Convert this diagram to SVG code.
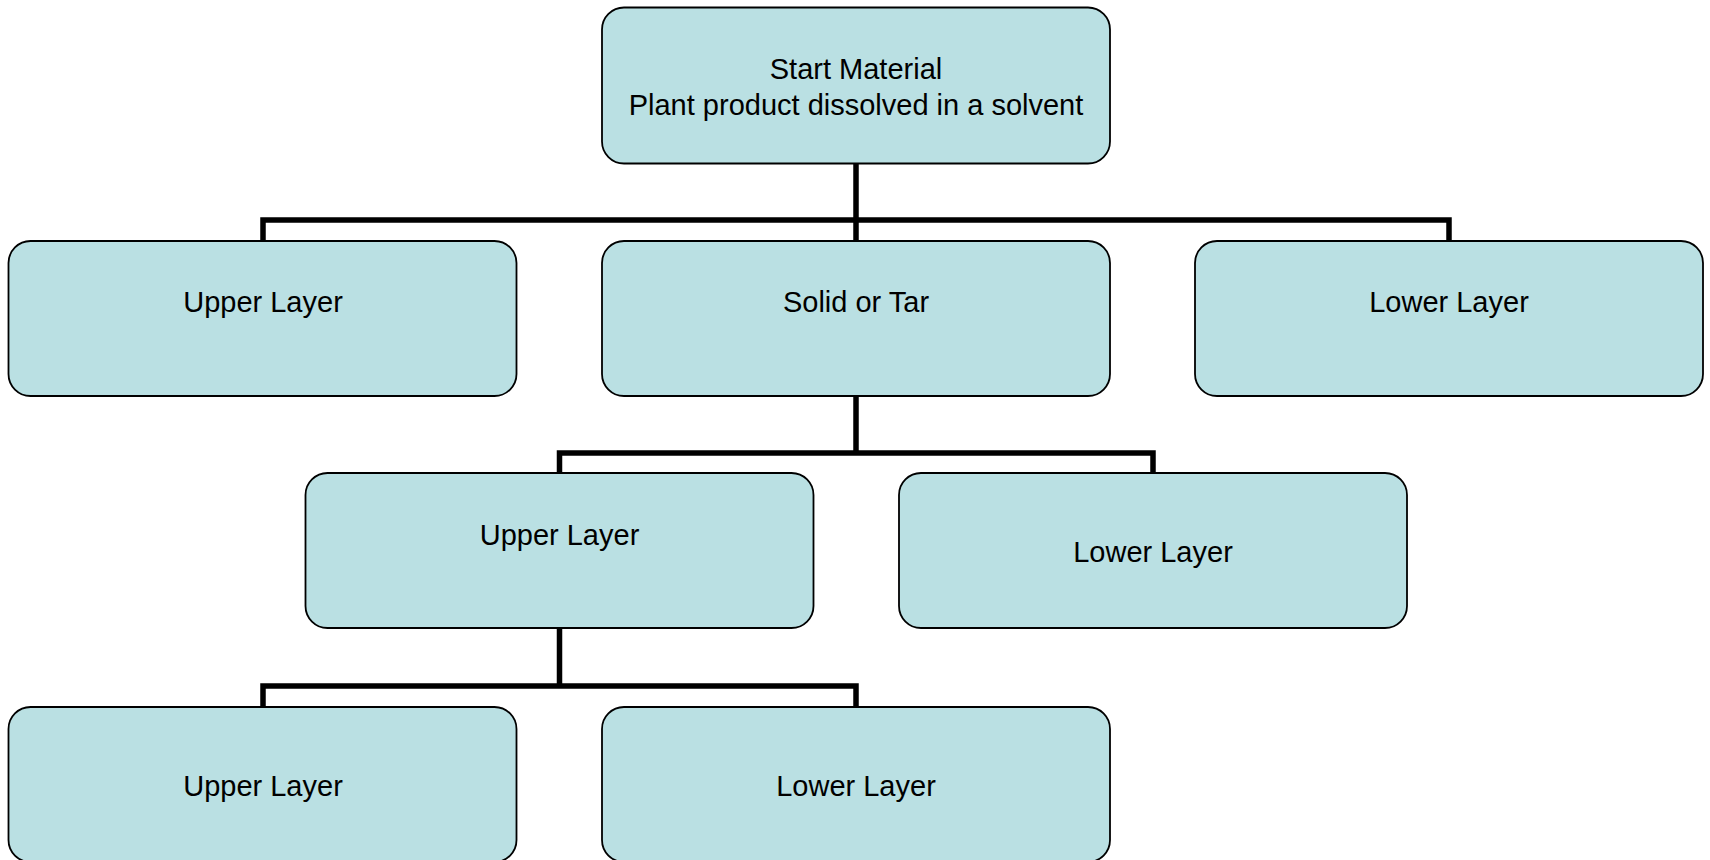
<svg xmlns="http://www.w3.org/2000/svg" width="1710" height="860" viewBox="0 0 1710 860">
  <style>
    .box { fill: #BAE0E3; stroke: #000000; stroke-width: 1.8; }
    .lbl { font-family: "Liberation Sans", Arial, sans-serif; font-size: 29px; fill: #000000; text-anchor: middle; }
    .conn { fill: none; stroke: #000000; stroke-width: 5.5; stroke-linejoin: miter; stroke-linecap: butt; }
  </style>
  <rect width="1710" height="860" fill="#FFFFFF"/>
  <g id="connectors">
    <path class="conn" d="M856 163 V220 M263 243 V220 H1449 V243 M856 220 V243"/>
    <path class="conn" d="M856 396 V453 M559.5 475 V453 H1153 V475"/>
    <path class="conn" d="M559.5 628 V686 M263 709 V686 H856 V709"/>
  </g>
  <g id="start">
    <rect class="box" x="602" y="7.5" width="508" height="156" rx="22"/>
    <text class="lbl" x="856" y="79">Start Material</text>
    <text class="lbl" x="856" y="115">Plant product dissolved in a solvent</text>
  </g>
  <g id="upper1">
    <rect class="box" x="8.5" y="241" width="508" height="155" rx="22"/>
    <text class="lbl" x="263" y="312">Upper Layer</text>
  </g>
  <g id="solid">
    <rect class="box" x="602" y="241" width="508" height="155" rx="22"/>
    <text class="lbl" x="856" y="312">Solid or Tar</text>
  </g>
  <g id="lower1">
    <rect class="box" x="1195" y="241" width="508" height="155" rx="22"/>
    <text class="lbl" x="1449" y="312">Lower Layer</text>
  </g>
  <g id="upper2">
    <rect class="box" x="305.5" y="473" width="508" height="155" rx="22"/>
    <text class="lbl" x="559.5" y="545">Upper Layer</text>
  </g>
  <g id="lower2">
    <rect class="box" x="899" y="473" width="508" height="155" rx="22"/>
    <text class="lbl" x="1153" y="562">Lower Layer</text>
  </g>
  <g id="upper3">
    <rect class="box" x="8.5" y="707" width="508" height="155" rx="22"/>
    <text class="lbl" x="263" y="796">Upper Layer</text>
  </g>
  <g id="lower3">
    <rect class="box" x="602" y="707" width="508" height="155" rx="22"/>
    <text class="lbl" x="856" y="796">Lower Layer</text>
  </g>
</svg>
